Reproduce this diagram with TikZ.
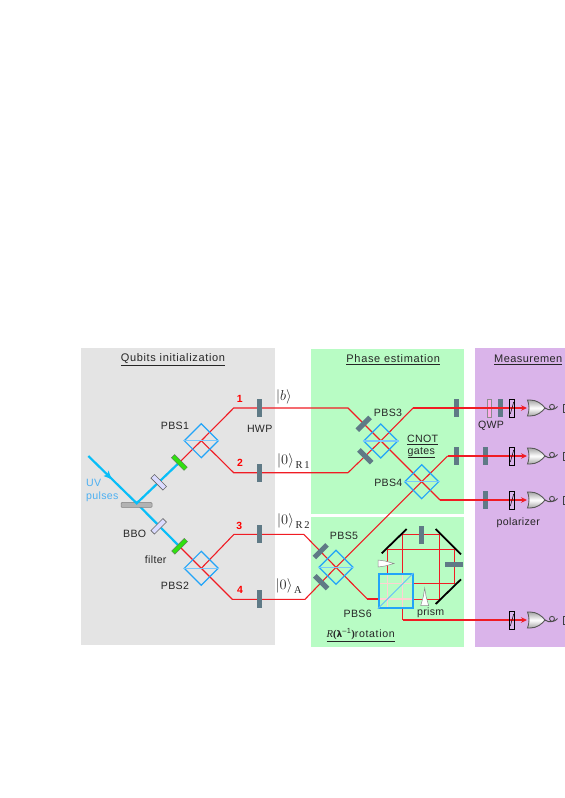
\documentclass[tikz,border=0pt]{standalone}
\usepackage{fontspec}
\setmainfont[LetterSpace=3]{Liberation Sans}
\newfontfamily\serifl{Liberation Serif}
\newfontfamily\dejal{DejaVu Sans}
\usetikzlibrary{arrows.meta}
\definecolor{greyp}{HTML}{E4E4E4}
\definecolor{greenp}{HTML}{B8FCC4}
\definecolor{purplep}{HTML}{DAB4EA}
\definecolor{cyanb}{HTML}{08BEF8}
\definecolor{pbsb}{HTML}{22A4F8}
\definecolor{beam}{HTML}{F01C24}
\definecolor{plate}{HTML}{5F7A86}
\definecolor{uvtxt}{HTML}{4DB0F2}
\definecolor{filtg}{HTML}{30E010}
\tikzset{
  x=1pt,y=-1pt,
  lab/.style={font=\fontsize{10.6}{12}\selectfont,text=black!85,inner sep=0pt},
  ttl/.style={font=\fontsize{11}{12}\selectfont\addfontfeature{LetterSpace=6},text=black!85,inner sep=0pt},
  num/.style={font=\fontsize{10.4}{11}\selectfont\bfseries,text=red,inner sep=0pt},
  ket/.style={font=\fontsize{14}{15}\selectfont,inner sep=0pt,anchor=west,text=black!85},
  pbs/.style={draw=pbsb,line width=1.2pt,rotate=45,minimum size=24pt,inner sep=0pt},
  pbsin/.style={draw=pbsb!60,line width=1.2pt},
  wp/.style={fill=plate,minimum width=5pt,minimum height=18pt,inner sep=0pt},
  wpd/.style={fill=plate,minimum width=18pt,minimum height=5pt,inner sep=0pt},
  filt/.style={fill=filtg,draw=black!60,line width=.3pt,minimum width=18pt,minimum height=4.6pt,inner sep=0pt},
  lav/.style={fill=blue!14,draw=black!60,line width=.6pt,minimum width=17pt,minimum height=5pt,inner sep=0pt},
  mir/.style={line width=1.8pt,black},
  red/.style={draw=beam,line width=1.1pt,line join=miter},
  redthin/.style={draw=beam,line width=.85pt,line join=miter},
  uv/.style={draw=cyanb,line width=2.2pt},
  pola/.style={draw=black,line width=.7pt,minimum width=5.4pt,minimum height=18pt,inner sep=0pt},
  tip/.style={-{Stealth[length=6pt,width=5.5pt]}},
}
\newcommand{\subt}[1]{\raisebox{-3.5pt}{\fontsize{10.5}{11}\selectfont\serifl\,#1}}
\begin{document}
\begin{tikzpicture}
\useasboundingbox (0,0) rectangle (565,798);
\fill[white] (0,0) rectangle (565,798);
% panels
\fill[greyp] (81,348) rectangle (275,645);
\fill[greenp] (311,349) rectangle (464,514);
\fill[greenp] (311,517) rectangle (464,647);
\fill[purplep] (475,348) rectangle (565,647);
% titles
\node[ttl] (t1) at (173,359.5) {\underline{Qubits initialization}};
\node[ttl] (t2) at (393.3,359.7) {\underline{Phase estimation}};
\node[ttl,anchor=west,font=\fontsize{11}{12}\selectfont\addfontfeature{LetterSpace=4}] (t3) at (494,360) {\underline{Measuremen}};
% beam splitter positions
\coordinate (cP1) at (201.3,440.7);
\coordinate (cP2) at (201.3,568.3);
\coordinate (cP3) at (380.7,441);
\coordinate (cP4) at (421.7,481.7);
\coordinate (cP5) at (336,567.3);
% UV
\coordinate (uvs) at (88.3,456);
\coordinate (bbo) at (136.7,503.3);
\coordinate (fa) at (179.3,462.5);
\coordinate (fb) at (179.3,546.3);
\draw[uv] (uvs) -- (bbo) -- (fa);
\draw[uv] (bbo) -- (fb);
\fill[cyanb] (111.5,479) -- (103.5,476) -- (107.5,474.5) -- (108.5,470.5) -- cycle;
% corners of red paths
\coordinate (a1) at (233.7,408);
\coordinate (a2) at (348,408);
\coordinate (a3) at (440,500);
\coordinate (b1) at (233.7,472.7);
\coordinate (b2) at (348,472.7);
\coordinate (b3) at (413,408);
\coordinate (c1) at (234,534.3);
\coordinate (c2) at (303.7,534.3);
\coordinate (c3) at (367.3,599);
\coordinate (d1) at (232.3,599.3);
\coordinate (d2) at (305,599.3);
\coordinate (d3) at (447.7,456);
% detectors ends
\coordinate (e1) at (527,408);
\coordinate (e2) at (527,456);
\coordinate (e3) at (527,500);
\coordinate (e4) at (527,620);
% red beams
\draw[red] (fa) -- (cP1) -- (a1) -- (a2) -- (cP4) -- (a3);
\draw[red] (cP1) -- (b1) -- (b2) -- (cP3) -- (b3);
\draw[red] (fb) -- (cP2) -- (d1) -- (d2) -- (cP5) -- (cP4) -- (d3);
\draw[red] (cP2) -- (c1) -- (c2) -- (cP5) -- (c3);
% plates over the beams in the left panel
\node[wp] (hwp1) at (259.3,408) {};
\node[wp] (hwp2) at (259.3,473) {};
\node[wp] (hwp3) at (259.3,534) {};
\node[wp] (hwp4) at (259.3,599) {};
% Sagnac loop
\coordinate (s1) at (378,599);
\coordinate (s2) at (439.3,599);
\coordinate (s3) at (439.3,534.3);
\coordinate (s4) at (402.5,534.3);
\coordinate (s5) at (402.5,620);
\coordinate (s7) at (387.3,549);
\coordinate (s8) at (454,549);
\coordinate (s9) at (454,583.3);
\coordinate (s10) at (413.3,583.3);
\draw[red] (c3) -- (s1);
\draw[redthin] (413.3,599) -- (s2) -- (s3) -- (s4) -- (402.5,573.3);
\draw[redthin] (402.5,608.3) -- (s5);
\draw[redthin] (387.3,573.3) -- (s7) -- (s8) -- (s9) -- (s10);
\draw[pink!70!white,line width=1.1pt] (378,599) -- (413.3,599) (378,583.3) -- (413.3,583.3)
  (387.3,573.3) -- (387.3,608.3) (402.5,573.3) -- (402.5,608.3);
\node[draw=pbsb,line width=1.8pt,minimum size=34pt,inner sep=0pt] (pbs6) at (395.7,590.8) {};
\draw[draw=pbsb!70,line width=.9pt] (pbs6.south west) -- (pbs6.north east);
% sagnac plates and mirrors
\node[wp] (sp1) at (421,534.5) {};
\node[wpd] (sp2) at (454.3,564.3) {};
\coordinate (m1a) at (381.7,553.3); \coordinate (m1b) at (406.7,529);
\coordinate (m2a) at (435.7,529); \coordinate (m2b) at (461,554.3);
\coordinate (m3a) at (435.7,604); \coordinate (m3b) at (461,579.3);
\draw[mir] (m1a) -- (m1b);
\draw[mir] (m2a) -- (m2b);
\draw[mir] (m3a) -- (m3b);
% prisms
\coordinate (pr1) at (378,560);
\coordinate (pr2) at (424.7,588);
\draw[draw=black!45,fill=white,line width=.5pt] (pr1) -- ++(7,1) -- ++(9,2.5) -- ++(-9,2.5) -- ++(-7,1) -- cycle;
\draw[draw=black!45,fill=white,line width=.5pt] (pr2) -- ++(1.5,9) -- ++(2.5,8.7) -- ++(-8,0) -- ++(2.5,-8.7) -- cycle;
% PBS cubes
\foreach \n/\c in {1/cP1,2/cP2,3/cP3,4/cP4,5/cP5}{
  \node[pbs] (pbs\n) at (\c) {};
  \draw[pbsin] (pbs\n.north west) -- (pbs\n.south east);
}
% tilted plates
\node[wpd,rotate=45] (tp1) at (363.7,423.8) {};
\node[wpd,rotate=-45] (tp2) at (365.3,456.3) {};
\node[wpd,rotate=45] (tp3) at (320.7,551.2) {};
\node[wpd,rotate=-45] (tp4) at (321.2,582.2) {};
% BBO, filters
\node[fill=black!30,draw=black!50,rounded corners=1pt,line width=.5pt,minimum width=31pt,minimum height=5pt,inner sep=0pt] (bbobox) at (136.5,504.9) {};
\draw[uv] (bbo) ++(-2,-2) -- (bbo) -- ++(2.5,-2.5);
\node[lav,rotate=-45] (l1) at (158.7,482.3) {};
\node[lav,rotate=45] (l2) at (158.7,526.3) {};
\node[filt,rotate=-45] (f1) at (179.3,462.5) {};
\node[filt,rotate=45] (f2) at (179.6,546.3) {};
% right panel elements
\node[fill=pink!60!magenta!60,draw=black!45,line width=.4pt,minimum width=3.6pt,minimum height=18pt,inner sep=0pt] (qwp) at (489.2,408) {};
\node[wp] (w0) at (500,408) {};
\node[wp] (w1) at (456.7,408) {};
\node[wp] (w2) at (456.7,456) {};
\node[wp] (w3) at (485.5,456) {};
\node[wp] (w5) at (485.5,500) {};
% beams out
\draw[red,tip] (b3) -- (e1);
\draw[red,tip] (d3) -- (e2);
\draw[red,tip] (a3) -- (e3);
\draw[red,tip] (s5) -- (e4);
\foreach \n/\y in {1/408,2/456,3/500,4/620}{
  \node[pola] (pol\n) at (512,\y) {};
  \draw[black,line width=.5pt] (510.3,\y+6) -- (513.7,\y-6);
  \path[draw=black!65,line width=.9pt,top color=black!35,bottom color=black!35,middle color=white]
     (527.5,\y-8) -- (530,\y-8) .. controls (537,\y-8) and (542,\y-4) .. (545,\y)
     .. controls (542,\y+4) and (537,\y+8) .. (530,\y+8) -- (527.5,\y+8) .. controls (529.5,\y+3) and (529.5,\y-3) .. (527.5,\y-8) -- cycle;
  \draw[black!70,line width=.9pt] (545,\y) .. controls (549,\y+3) and (554,\y+2) .. (554.5,\y-1)
     .. controls (555,\y-4.5) and (549,\y-4.5) .. (549.5,\y-1) .. controls (550,\y+2.5) and (555,\y+2) .. (557.5,\y-1.5);
  \draw[black!75,line width=.9pt] (563,\y-4) -- (565,\y-4) (563,\y-4) -- (563,\y+4) -- (565,\y+4);
}
% numbers
\node[num] (n1) at (239.7,399.3) {1};
\node[num] (n2) at (240,463.3) {2};
\node[num] (n3) at (239.3,525.7) {3};
\node[num] (n4) at (240,590) {4};
% kets
\node[ket] (k1) at (276,397) {$\left|b\right\rangle$};
\node[ket] (k2) at (277,461) {$\left|0\right\rangle$\subt{R\,1}};
\node[ket] (k3) at (277,521) {$\left|0\right\rangle$\subt{R\,2}};
\node[ket] (k4) at (275.5,586) {$\left|0\right\rangle$\subt{A}};
% labels
\node[lab] (lp1) at (175,425.7) {PBS1};
\node[lab] (lh) at (259.7,429.3) {HWP};
\node[lab,text=uvtxt,anchor=west] (uv1) at (86,483) {UV};
\node[lab,text=uvtxt,anchor=west] (uv2) at (86,496.7) {pulses};
\node[lab] (lb) at (134.7,534) {BBO};
\node[lab] (lf) at (155.7,560) {filter};
\node[lab] (lp2) at (175,586) {PBS2};
\node[lab] (lp3) at (388,413) {PBS3};
\node[lab] (lc1) at (422.7,440) {\underline{CNOT}};
\node[lab] (lc2) at (421.3,452.7) {\underline{gates}};
\node[lab] (lp4) at (388.3,483) {PBS4};
\node[lab] (lp5) at (344,535.7) {PBS5};
\node[lab] (lp6) at (357.7,614.3) {PBS6};
\node[lab] (lpr) at (430.7,612.3) {prism};
\node[lab,anchor=west] (lr) at (326.5,635) {\underline{{\serifl\itshape R}{\serifl\bfseries(}{\dejal\bfseries\fontsize{9}{10}\selectfont λ}\textsuperscript{--1}{\serifl\bfseries)}\addfontfeature{LetterSpace=6}rotation}};
\node[lab] (lq) at (491,425.7) {QWP};
\node[lab] (lpol) at (518.3,522.7) {polarizer};
\end{tikzpicture}
\end{document}
